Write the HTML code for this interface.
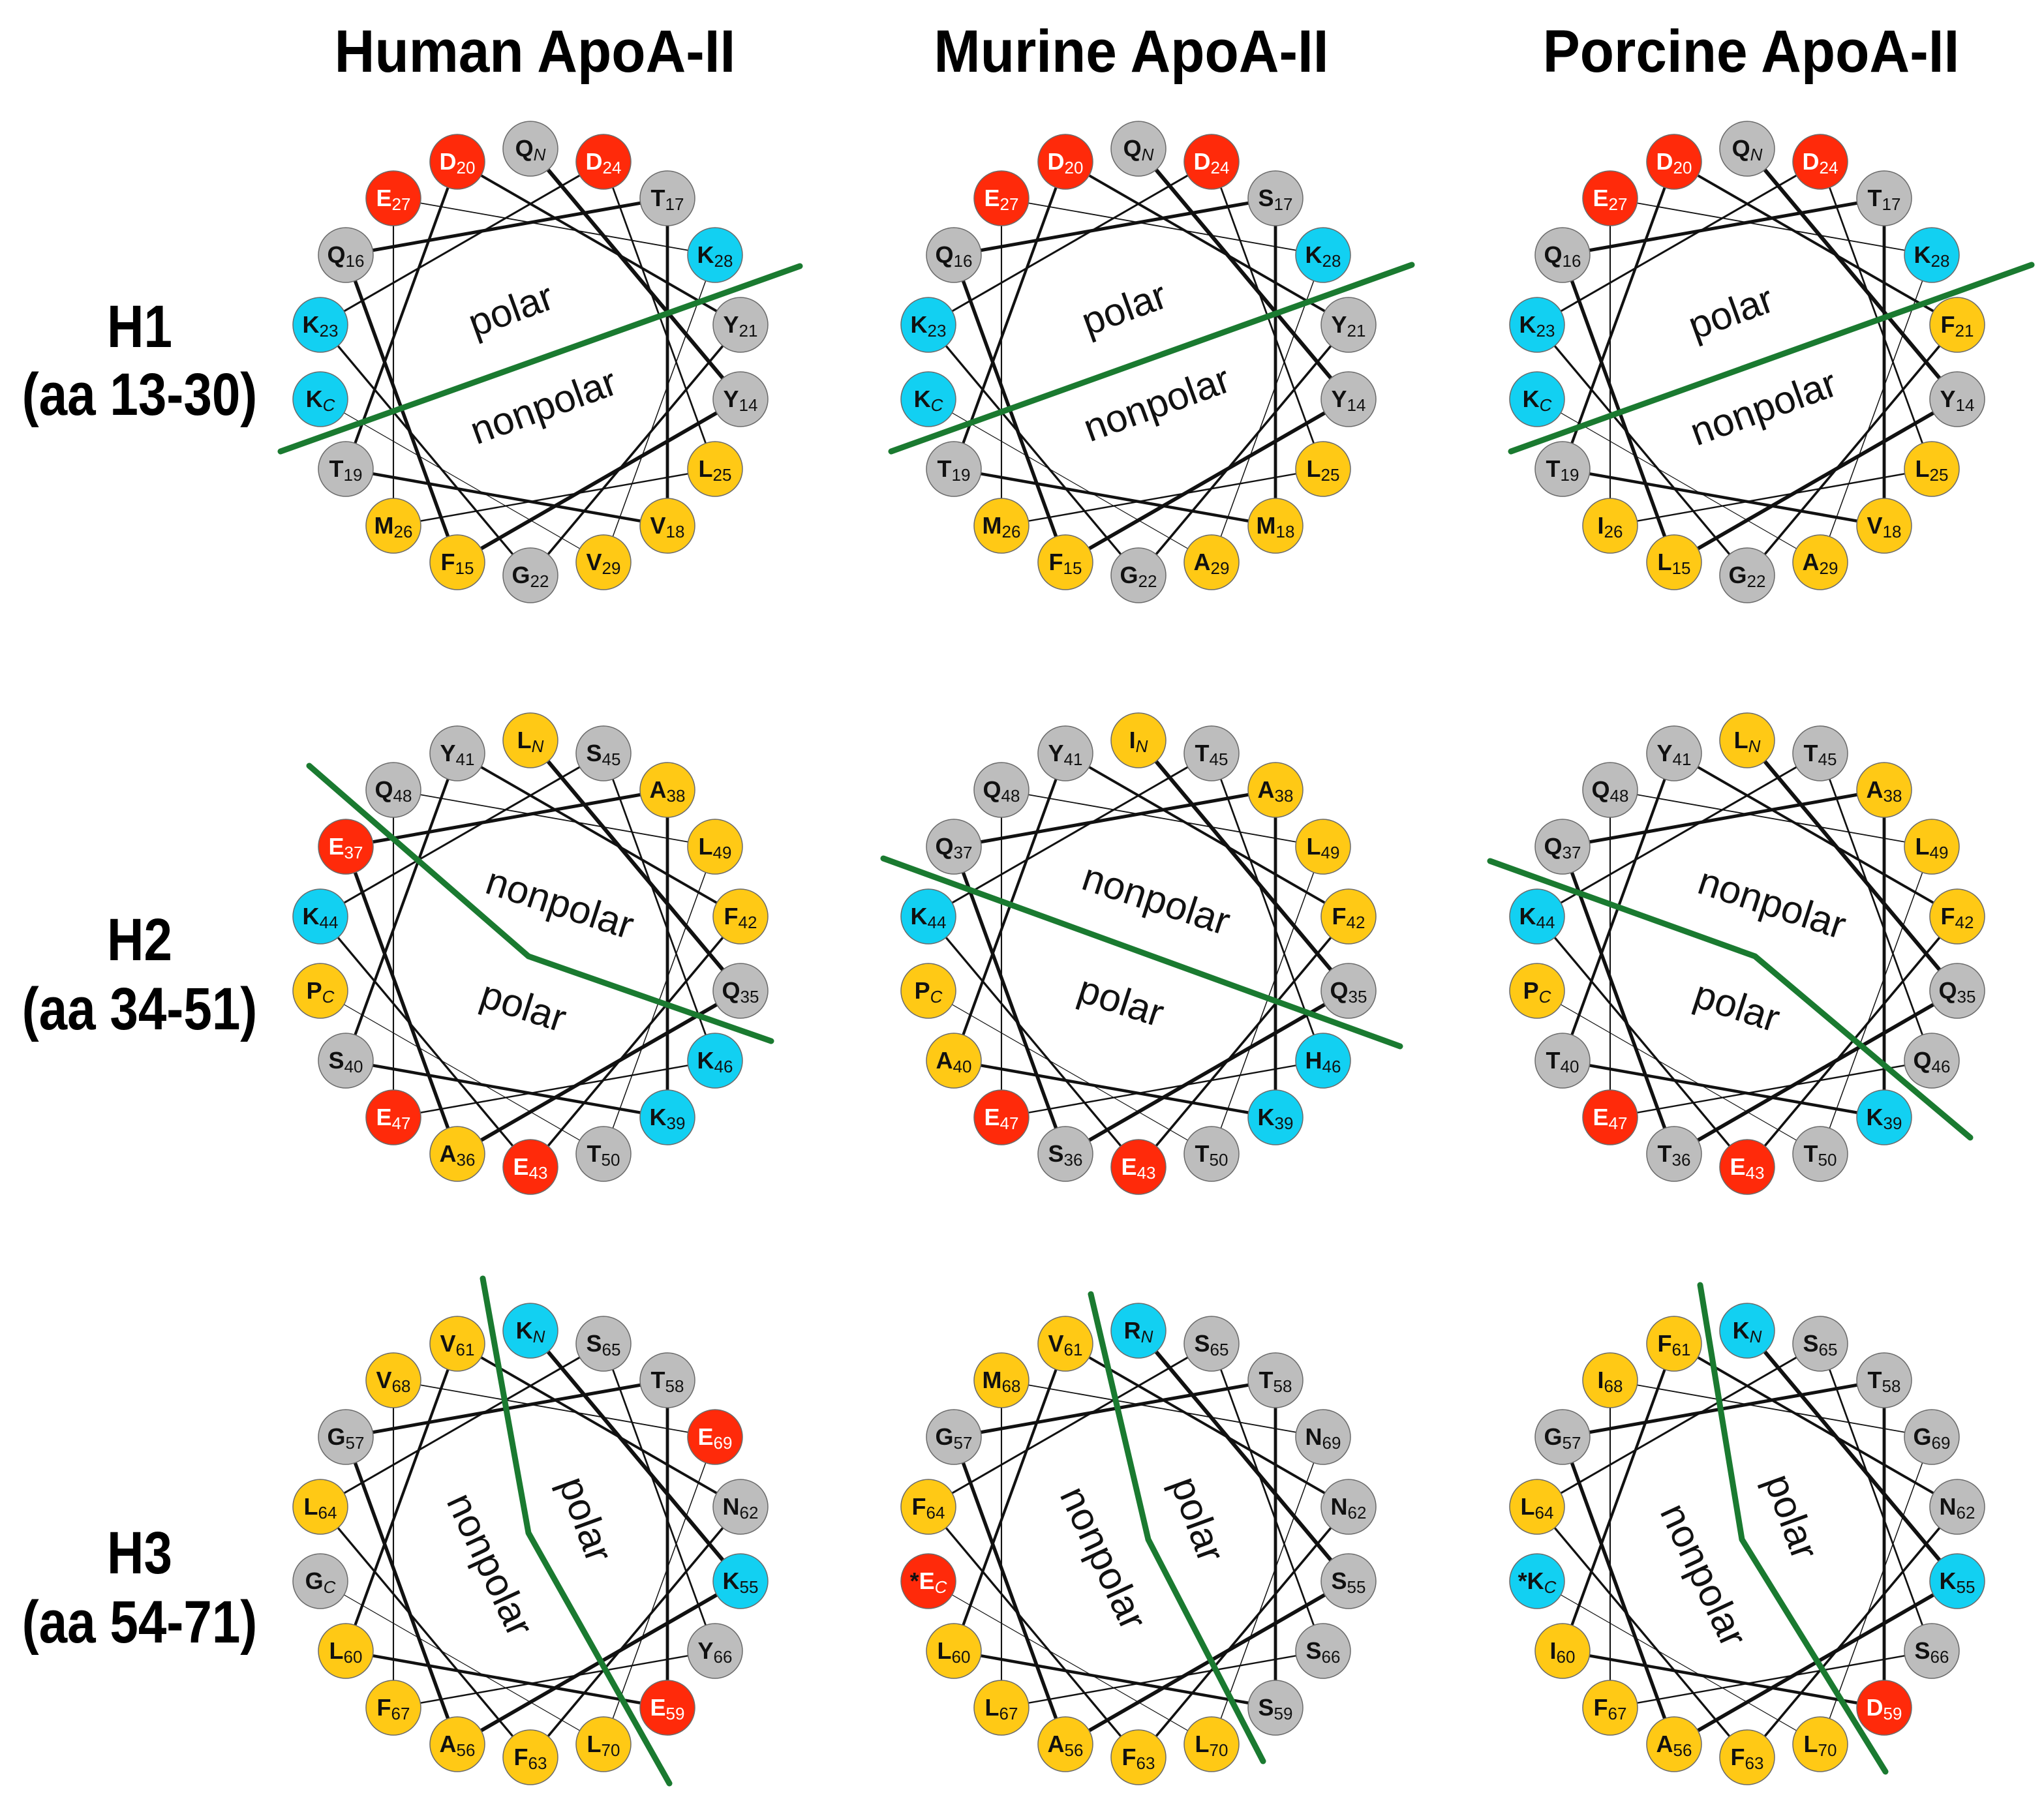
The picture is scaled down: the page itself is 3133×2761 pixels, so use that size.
<!DOCTYPE html>
<html><head><meta charset="utf-8"><style>
html,body{margin:0;padding:0;background:#fff}
svg{display:block}
.r{fill:#ff2a0a}.g{fill:#bdbdbd}.y{fill:#ffc915}.c{fill:#12d0f2}
circle{stroke:#6a6a6a;stroke-width:1.5}
text.t{font-family:"Liberation Sans",sans-serif;font-size:36px;font-weight:bold;text-anchor:middle;fill:#111}
text.w{fill:#fff}
.s{font-size:26px;font-weight:normal}
.i{font-size:26px;font-weight:normal;font-style:italic}
.h{font-family:"Liberation Sans",sans-serif;font-weight:bold;font-size:92px;text-anchor:middle;fill:#000}
.p{font-family:"Liberation Sans",sans-serif;font-size:60px;text-anchor:middle;fill:#111}
.gl{stroke:#1a7a30;stroke-width:9;fill:none;stroke-linecap:round;stroke-linejoin:round}
</style></head><body>
<svg width="3133" height="2761" viewBox="0 0 3133 2761" xmlns="http://www.w3.org/2000/svg">
<defs>
<g id="L" stroke="#111" stroke-linecap="round">
<line x1="0" y1="-327" x2="322" y2="57" stroke-width="6"/>
<line x1="322" y1="57" x2="-112" y2="307" stroke-width="5.7"/>
<line x1="-112" y1="307" x2="-283" y2="-164" stroke-width="5.4"/>
<line x1="-283" y1="-164" x2="210" y2="-251" stroke-width="5.1"/>
<line x1="210" y1="-251" x2="210" y2="251" stroke-width="4.8"/>
<line x1="210" y1="251" x2="-283" y2="164" stroke-width="4.5"/>
<line x1="-283" y1="164" x2="-112" y2="-307" stroke-width="4.2"/>
<line x1="-112" y1="-307" x2="322" y2="-57" stroke-width="3.9"/>
<line x1="322" y1="-57" x2="0" y2="327" stroke-width="3.6"/>
<line x1="0" y1="327" x2="-322" y2="-57" stroke-width="3.3"/>
<line x1="-322" y1="-57" x2="112" y2="-307" stroke-width="3.0"/>
<line x1="112" y1="-307" x2="283" y2="164" stroke-width="2.7"/>
<line x1="283" y1="164" x2="-210" y2="251" stroke-width="2.4"/>
<line x1="-210" y1="251" x2="-210" y2="-251" stroke-width="2.1"/>
<line x1="-210" y1="-251" x2="283" y2="-164" stroke-width="1.8"/>
<line x1="283" y1="-164" x2="112" y2="307" stroke-width="1.5"/>
<line x1="112" y1="307" x2="-322" y2="57" stroke-width="1.2"/>
</g>
</defs>

<text class="h" x="820" y="110" transform="translate(820 0) scale(0.93 1) translate(-820 0)">Human ApoA-II</text>
<text class="h" x="1734" y="110" transform="translate(1734 0) scale(0.93 1) translate(-1734 0)">Murine ApoA-II</text>
<text class="h" x="2684" y="110" transform="translate(2684 0) scale(0.93 1) translate(-2684 0)">Porcine ApoA-II</text>

<g transform="translate(214 0) scale(0.85 1) translate(-214 0)">
<text class="h" x="214" y="532">H1</text>
<text class="h" x="214" y="636">(aa 13-30)</text>
<text class="h" x="214" y="1472">H2</text>
<text class="h" x="214" y="1578">(aa 34-51)</text>
<text class="h" x="214" y="2412">H3</text>
<text class="h" x="214" y="2518">(aa 54-71)</text>
</g>

<g transform="translate(813 555)"><use href="#L"/>
<circle class="g" cx="0" cy="-327" r="42"/><text class="t" x="0" y="-315">Q<tspan class="i" dy="6">N</tspan></text>
<circle class="g" cx="322" cy="57" r="42"/><text class="t" x="322" y="69">Y<tspan class="s" dy="6">14</tspan></text>
<circle class="y" cx="-112" cy="307" r="42"/><text class="t" x="-112" y="319">F<tspan class="s" dy="6">15</tspan></text>
<circle class="g" cx="-283" cy="-164" r="42"/><text class="t" x="-283" y="-152">Q<tspan class="s" dy="6">16</tspan></text>
<circle class="g" cx="210" cy="-251" r="42"/><text class="t" x="210" y="-239">T<tspan class="s" dy="6">17</tspan></text>
<circle class="y" cx="210" cy="251" r="42"/><text class="t" x="210" y="263">V<tspan class="s" dy="6">18</tspan></text>
<circle class="g" cx="-283" cy="164" r="42"/><text class="t" x="-283" y="176">T<tspan class="s" dy="6">19</tspan></text>
<circle class="r" cx="-112" cy="-307" r="42"/><text class="t w" x="-112" y="-295">D<tspan class="s" dy="6">20</tspan></text>
<circle class="g" cx="322" cy="-57" r="42"/><text class="t" x="322" y="-45">Y<tspan class="s" dy="6">21</tspan></text>
<circle class="g" cx="0" cy="327" r="42"/><text class="t" x="0" y="339">G<tspan class="s" dy="6">22</tspan></text>
<circle class="c" cx="-322" cy="-57" r="42"/><text class="t" x="-322" y="-45">K<tspan class="s" dy="6">23</tspan></text>
<circle class="r" cx="112" cy="-307" r="42"/><text class="t w" x="112" y="-295">D<tspan class="s" dy="6">24</tspan></text>
<circle class="y" cx="283" cy="164" r="42"/><text class="t" x="283" y="176">L<tspan class="s" dy="6">25</tspan></text>
<circle class="y" cx="-210" cy="251" r="42"/><text class="t" x="-210" y="263">M<tspan class="s" dy="6">26</tspan></text>
<circle class="r" cx="-210" cy="-251" r="42"/><text class="t w" x="-210" y="-239">E<tspan class="s" dy="6">27</tspan></text>
<circle class="c" cx="283" cy="-164" r="42"/><text class="t" x="283" y="-152">K<tspan class="s" dy="6">28</tspan></text>
<circle class="y" cx="112" cy="307" r="42"/><text class="t" x="112" y="319">V<tspan class="s" dy="6">29</tspan></text>
<circle class="c" cx="-322" cy="57" r="42"/><text class="t" x="-322" y="69">K<tspan class="i" dy="6">C</tspan></text>
</g>

<g transform="translate(1745 555)"><use href="#L"/>
<circle class="g" cx="0" cy="-327" r="42"/><text class="t" x="0" y="-315">Q<tspan class="i" dy="6">N</tspan></text>
<circle class="g" cx="322" cy="57" r="42"/><text class="t" x="322" y="69">Y<tspan class="s" dy="6">14</tspan></text>
<circle class="y" cx="-112" cy="307" r="42"/><text class="t" x="-112" y="319">F<tspan class="s" dy="6">15</tspan></text>
<circle class="g" cx="-283" cy="-164" r="42"/><text class="t" x="-283" y="-152">Q<tspan class="s" dy="6">16</tspan></text>
<circle class="g" cx="210" cy="-251" r="42"/><text class="t" x="210" y="-239">S<tspan class="s" dy="6">17</tspan></text>
<circle class="y" cx="210" cy="251" r="42"/><text class="t" x="210" y="263">M<tspan class="s" dy="6">18</tspan></text>
<circle class="g" cx="-283" cy="164" r="42"/><text class="t" x="-283" y="176">T<tspan class="s" dy="6">19</tspan></text>
<circle class="r" cx="-112" cy="-307" r="42"/><text class="t w" x="-112" y="-295">D<tspan class="s" dy="6">20</tspan></text>
<circle class="g" cx="322" cy="-57" r="42"/><text class="t" x="322" y="-45">Y<tspan class="s" dy="6">21</tspan></text>
<circle class="g" cx="0" cy="327" r="42"/><text class="t" x="0" y="339">G<tspan class="s" dy="6">22</tspan></text>
<circle class="c" cx="-322" cy="-57" r="42"/><text class="t" x="-322" y="-45">K<tspan class="s" dy="6">23</tspan></text>
<circle class="r" cx="112" cy="-307" r="42"/><text class="t w" x="112" y="-295">D<tspan class="s" dy="6">24</tspan></text>
<circle class="y" cx="283" cy="164" r="42"/><text class="t" x="283" y="176">L<tspan class="s" dy="6">25</tspan></text>
<circle class="y" cx="-210" cy="251" r="42"/><text class="t" x="-210" y="263">M<tspan class="s" dy="6">26</tspan></text>
<circle class="r" cx="-210" cy="-251" r="42"/><text class="t w" x="-210" y="-239">E<tspan class="s" dy="6">27</tspan></text>
<circle class="c" cx="283" cy="-164" r="42"/><text class="t" x="283" y="-152">K<tspan class="s" dy="6">28</tspan></text>
<circle class="y" cx="112" cy="307" r="42"/><text class="t" x="112" y="319">A<tspan class="s" dy="6">29</tspan></text>
<circle class="c" cx="-322" cy="57" r="42"/><text class="t" x="-322" y="69">K<tspan class="i" dy="6">C</tspan></text>
</g>

<g transform="translate(2678 555)"><use href="#L"/>
<circle class="g" cx="0" cy="-327" r="42"/><text class="t" x="0" y="-315">Q<tspan class="i" dy="6">N</tspan></text>
<circle class="g" cx="322" cy="57" r="42"/><text class="t" x="322" y="69">Y<tspan class="s" dy="6">14</tspan></text>
<circle class="y" cx="-112" cy="307" r="42"/><text class="t" x="-112" y="319">L<tspan class="s" dy="6">15</tspan></text>
<circle class="g" cx="-283" cy="-164" r="42"/><text class="t" x="-283" y="-152">Q<tspan class="s" dy="6">16</tspan></text>
<circle class="g" cx="210" cy="-251" r="42"/><text class="t" x="210" y="-239">T<tspan class="s" dy="6">17</tspan></text>
<circle class="y" cx="210" cy="251" r="42"/><text class="t" x="210" y="263">V<tspan class="s" dy="6">18</tspan></text>
<circle class="g" cx="-283" cy="164" r="42"/><text class="t" x="-283" y="176">T<tspan class="s" dy="6">19</tspan></text>
<circle class="r" cx="-112" cy="-307" r="42"/><text class="t w" x="-112" y="-295">D<tspan class="s" dy="6">20</tspan></text>
<circle class="y" cx="322" cy="-57" r="42"/><text class="t" x="322" y="-45">F<tspan class="s" dy="6">21</tspan></text>
<circle class="g" cx="0" cy="327" r="42"/><text class="t" x="0" y="339">G<tspan class="s" dy="6">22</tspan></text>
<circle class="c" cx="-322" cy="-57" r="42"/><text class="t" x="-322" y="-45">K<tspan class="s" dy="6">23</tspan></text>
<circle class="r" cx="112" cy="-307" r="42"/><text class="t w" x="112" y="-295">D<tspan class="s" dy="6">24</tspan></text>
<circle class="y" cx="283" cy="164" r="42"/><text class="t" x="283" y="176">L<tspan class="s" dy="6">25</tspan></text>
<circle class="y" cx="-210" cy="251" r="42"/><text class="t" x="-210" y="263">I<tspan class="s" dy="6">26</tspan></text>
<circle class="r" cx="-210" cy="-251" r="42"/><text class="t w" x="-210" y="-239">E<tspan class="s" dy="6">27</tspan></text>
<circle class="c" cx="283" cy="-164" r="42"/><text class="t" x="283" y="-152">K<tspan class="s" dy="6">28</tspan></text>
<circle class="y" cx="112" cy="307" r="42"/><text class="t" x="112" y="319">A<tspan class="s" dy="6">29</tspan></text>
<circle class="c" cx="-322" cy="57" r="42"/><text class="t" x="-322" y="69">K<tspan class="i" dy="6">C</tspan></text>
</g>

<g transform="translate(813 1462)"><use href="#L"/>
<circle class="y" cx="0" cy="-327" r="42"/><text class="t" x="0" y="-315">L<tspan class="i" dy="6">N</tspan></text>
<circle class="g" cx="322" cy="57" r="42"/><text class="t" x="322" y="69">Q<tspan class="s" dy="6">35</tspan></text>
<circle class="y" cx="-112" cy="307" r="42"/><text class="t" x="-112" y="319">A<tspan class="s" dy="6">36</tspan></text>
<circle class="r" cx="-283" cy="-164" r="42"/><text class="t w" x="-283" y="-152">E<tspan class="s" dy="6">37</tspan></text>
<circle class="y" cx="210" cy="-251" r="42"/><text class="t" x="210" y="-239">A<tspan class="s" dy="6">38</tspan></text>
<circle class="c" cx="210" cy="251" r="42"/><text class="t" x="210" y="263">K<tspan class="s" dy="6">39</tspan></text>
<circle class="g" cx="-283" cy="164" r="42"/><text class="t" x="-283" y="176">S<tspan class="s" dy="6">40</tspan></text>
<circle class="g" cx="-112" cy="-307" r="42"/><text class="t" x="-112" y="-295">Y<tspan class="s" dy="6">41</tspan></text>
<circle class="y" cx="322" cy="-57" r="42"/><text class="t" x="322" y="-45">F<tspan class="s" dy="6">42</tspan></text>
<circle class="r" cx="0" cy="327" r="42"/><text class="t w" x="0" y="339">E<tspan class="s" dy="6">43</tspan></text>
<circle class="c" cx="-322" cy="-57" r="42"/><text class="t" x="-322" y="-45">K<tspan class="s" dy="6">44</tspan></text>
<circle class="g" cx="112" cy="-307" r="42"/><text class="t" x="112" y="-295">S<tspan class="s" dy="6">45</tspan></text>
<circle class="c" cx="283" cy="164" r="42"/><text class="t" x="283" y="176">K<tspan class="s" dy="6">46</tspan></text>
<circle class="r" cx="-210" cy="251" r="42"/><text class="t w" x="-210" y="263">E<tspan class="s" dy="6">47</tspan></text>
<circle class="g" cx="-210" cy="-251" r="42"/><text class="t" x="-210" y="-239">Q<tspan class="s" dy="6">48</tspan></text>
<circle class="y" cx="283" cy="-164" r="42"/><text class="t" x="283" y="-152">L<tspan class="s" dy="6">49</tspan></text>
<circle class="g" cx="112" cy="307" r="42"/><text class="t" x="112" y="319">T<tspan class="s" dy="6">50</tspan></text>
<circle class="y" cx="-322" cy="57" r="42"/><text class="t" x="-322" y="69">P<tspan class="i" dy="6">C</tspan></text>
</g>

<g transform="translate(1745 1462)"><use href="#L"/>
<circle class="y" cx="0" cy="-327" r="42"/><text class="t" x="0" y="-315">I<tspan class="i" dy="6">N</tspan></text>
<circle class="g" cx="322" cy="57" r="42"/><text class="t" x="322" y="69">Q<tspan class="s" dy="6">35</tspan></text>
<circle class="g" cx="-112" cy="307" r="42"/><text class="t" x="-112" y="319">S<tspan class="s" dy="6">36</tspan></text>
<circle class="g" cx="-283" cy="-164" r="42"/><text class="t" x="-283" y="-152">Q<tspan class="s" dy="6">37</tspan></text>
<circle class="y" cx="210" cy="-251" r="42"/><text class="t" x="210" y="-239">A<tspan class="s" dy="6">38</tspan></text>
<circle class="c" cx="210" cy="251" r="42"/><text class="t" x="210" y="263">K<tspan class="s" dy="6">39</tspan></text>
<circle class="y" cx="-283" cy="164" r="42"/><text class="t" x="-283" y="176">A<tspan class="s" dy="6">40</tspan></text>
<circle class="g" cx="-112" cy="-307" r="42"/><text class="t" x="-112" y="-295">Y<tspan class="s" dy="6">41</tspan></text>
<circle class="y" cx="322" cy="-57" r="42"/><text class="t" x="322" y="-45">F<tspan class="s" dy="6">42</tspan></text>
<circle class="r" cx="0" cy="327" r="42"/><text class="t w" x="0" y="339">E<tspan class="s" dy="6">43</tspan></text>
<circle class="c" cx="-322" cy="-57" r="42"/><text class="t" x="-322" y="-45">K<tspan class="s" dy="6">44</tspan></text>
<circle class="g" cx="112" cy="-307" r="42"/><text class="t" x="112" y="-295">T<tspan class="s" dy="6">45</tspan></text>
<circle class="c" cx="283" cy="164" r="42"/><text class="t" x="283" y="176">H<tspan class="s" dy="6">46</tspan></text>
<circle class="r" cx="-210" cy="251" r="42"/><text class="t w" x="-210" y="263">E<tspan class="s" dy="6">47</tspan></text>
<circle class="g" cx="-210" cy="-251" r="42"/><text class="t" x="-210" y="-239">Q<tspan class="s" dy="6">48</tspan></text>
<circle class="y" cx="283" cy="-164" r="42"/><text class="t" x="283" y="-152">L<tspan class="s" dy="6">49</tspan></text>
<circle class="g" cx="112" cy="307" r="42"/><text class="t" x="112" y="319">T<tspan class="s" dy="6">50</tspan></text>
<circle class="y" cx="-322" cy="57" r="42"/><text class="t" x="-322" y="69">P<tspan class="i" dy="6">C</tspan></text>
</g>

<g transform="translate(2678 1462)"><use href="#L"/>
<circle class="y" cx="0" cy="-327" r="42"/><text class="t" x="0" y="-315">L<tspan class="i" dy="6">N</tspan></text>
<circle class="g" cx="322" cy="57" r="42"/><text class="t" x="322" y="69">Q<tspan class="s" dy="6">35</tspan></text>
<circle class="g" cx="-112" cy="307" r="42"/><text class="t" x="-112" y="319">T<tspan class="s" dy="6">36</tspan></text>
<circle class="g" cx="-283" cy="-164" r="42"/><text class="t" x="-283" y="-152">Q<tspan class="s" dy="6">37</tspan></text>
<circle class="y" cx="210" cy="-251" r="42"/><text class="t" x="210" y="-239">A<tspan class="s" dy="6">38</tspan></text>
<circle class="c" cx="210" cy="251" r="42"/><text class="t" x="210" y="263">K<tspan class="s" dy="6">39</tspan></text>
<circle class="g" cx="-283" cy="164" r="42"/><text class="t" x="-283" y="176">T<tspan class="s" dy="6">40</tspan></text>
<circle class="g" cx="-112" cy="-307" r="42"/><text class="t" x="-112" y="-295">Y<tspan class="s" dy="6">41</tspan></text>
<circle class="y" cx="322" cy="-57" r="42"/><text class="t" x="322" y="-45">F<tspan class="s" dy="6">42</tspan></text>
<circle class="r" cx="0" cy="327" r="42"/><text class="t w" x="0" y="339">E<tspan class="s" dy="6">43</tspan></text>
<circle class="c" cx="-322" cy="-57" r="42"/><text class="t" x="-322" y="-45">K<tspan class="s" dy="6">44</tspan></text>
<circle class="g" cx="112" cy="-307" r="42"/><text class="t" x="112" y="-295">T<tspan class="s" dy="6">45</tspan></text>
<circle class="g" cx="283" cy="164" r="42"/><text class="t" x="283" y="176">Q<tspan class="s" dy="6">46</tspan></text>
<circle class="r" cx="-210" cy="251" r="42"/><text class="t w" x="-210" y="263">E<tspan class="s" dy="6">47</tspan></text>
<circle class="g" cx="-210" cy="-251" r="42"/><text class="t" x="-210" y="-239">Q<tspan class="s" dy="6">48</tspan></text>
<circle class="y" cx="283" cy="-164" r="42"/><text class="t" x="283" y="-152">L<tspan class="s" dy="6">49</tspan></text>
<circle class="g" cx="112" cy="307" r="42"/><text class="t" x="112" y="319">T<tspan class="s" dy="6">50</tspan></text>
<circle class="y" cx="-322" cy="57" r="42"/><text class="t" x="-322" y="69">P<tspan class="i" dy="6">C</tspan></text>
</g>

<g transform="translate(813 2367)"><use href="#L"/>
<circle class="c" cx="0" cy="-327" r="42"/><text class="t" x="0" y="-315">K<tspan class="i" dy="6">N</tspan></text>
<circle class="c" cx="322" cy="57" r="42"/><text class="t" x="322" y="69">K<tspan class="s" dy="6">55</tspan></text>
<circle class="y" cx="-112" cy="307" r="42"/><text class="t" x="-112" y="319">A<tspan class="s" dy="6">56</tspan></text>
<circle class="g" cx="-283" cy="-164" r="42"/><text class="t" x="-283" y="-152">G<tspan class="s" dy="6">57</tspan></text>
<circle class="g" cx="210" cy="-251" r="42"/><text class="t" x="210" y="-239">T<tspan class="s" dy="6">58</tspan></text>
<circle class="r" cx="210" cy="251" r="42"/><text class="t w" x="210" y="263">E<tspan class="s" dy="6">59</tspan></text>
<circle class="y" cx="-283" cy="164" r="42"/><text class="t" x="-283" y="176">L<tspan class="s" dy="6">60</tspan></text>
<circle class="y" cx="-112" cy="-307" r="42"/><text class="t" x="-112" y="-295">V<tspan class="s" dy="6">61</tspan></text>
<circle class="g" cx="322" cy="-57" r="42"/><text class="t" x="322" y="-45">N<tspan class="s" dy="6">62</tspan></text>
<circle class="y" cx="0" cy="327" r="42"/><text class="t" x="0" y="339">F<tspan class="s" dy="6">63</tspan></text>
<circle class="y" cx="-322" cy="-57" r="42"/><text class="t" x="-322" y="-45">L<tspan class="s" dy="6">64</tspan></text>
<circle class="g" cx="112" cy="-307" r="42"/><text class="t" x="112" y="-295">S<tspan class="s" dy="6">65</tspan></text>
<circle class="g" cx="283" cy="164" r="42"/><text class="t" x="283" y="176">Y<tspan class="s" dy="6">66</tspan></text>
<circle class="y" cx="-210" cy="251" r="42"/><text class="t" x="-210" y="263">F<tspan class="s" dy="6">67</tspan></text>
<circle class="y" cx="-210" cy="-251" r="42"/><text class="t" x="-210" y="-239">V<tspan class="s" dy="6">68</tspan></text>
<circle class="r" cx="283" cy="-164" r="42"/><text class="t w" x="283" y="-152">E<tspan class="s" dy="6">69</tspan></text>
<circle class="y" cx="112" cy="307" r="42"/><text class="t" x="112" y="319">L<tspan class="s" dy="6">70</tspan></text>
<circle class="g" cx="-322" cy="57" r="42"/><text class="t" x="-322" y="69">G<tspan class="i" dy="6">C</tspan></text>
</g>

<g transform="translate(1745 2367)"><use href="#L"/>
<circle class="c" cx="0" cy="-327" r="42"/><text class="t" x="0" y="-315">R<tspan class="i" dy="6">N</tspan></text>
<circle class="g" cx="322" cy="57" r="42"/><text class="t" x="322" y="69">S<tspan class="s" dy="6">55</tspan></text>
<circle class="y" cx="-112" cy="307" r="42"/><text class="t" x="-112" y="319">A<tspan class="s" dy="6">56</tspan></text>
<circle class="g" cx="-283" cy="-164" r="42"/><text class="t" x="-283" y="-152">G<tspan class="s" dy="6">57</tspan></text>
<circle class="g" cx="210" cy="-251" r="42"/><text class="t" x="210" y="-239">T<tspan class="s" dy="6">58</tspan></text>
<circle class="g" cx="210" cy="251" r="42"/><text class="t" x="210" y="263">S<tspan class="s" dy="6">59</tspan></text>
<circle class="y" cx="-283" cy="164" r="42"/><text class="t" x="-283" y="176">L<tspan class="s" dy="6">60</tspan></text>
<circle class="y" cx="-112" cy="-307" r="42"/><text class="t" x="-112" y="-295">V<tspan class="s" dy="6">61</tspan></text>
<circle class="g" cx="322" cy="-57" r="42"/><text class="t" x="322" y="-45">N<tspan class="s" dy="6">62</tspan></text>
<circle class="y" cx="0" cy="327" r="42"/><text class="t" x="0" y="339">F<tspan class="s" dy="6">63</tspan></text>
<circle class="y" cx="-322" cy="-57" r="42"/><text class="t" x="-322" y="-45">F<tspan class="s" dy="6">64</tspan></text>
<circle class="g" cx="112" cy="-307" r="42"/><text class="t" x="112" y="-295">S<tspan class="s" dy="6">65</tspan></text>
<circle class="g" cx="283" cy="164" r="42"/><text class="t" x="283" y="176">S<tspan class="s" dy="6">66</tspan></text>
<circle class="y" cx="-210" cy="251" r="42"/><text class="t" x="-210" y="263">L<tspan class="s" dy="6">67</tspan></text>
<circle class="y" cx="-210" cy="-251" r="42"/><text class="t" x="-210" y="-239">M<tspan class="s" dy="6">68</tspan></text>
<circle class="g" cx="283" cy="-164" r="42"/><text class="t" x="283" y="-152">N<tspan class="s" dy="6">69</tspan></text>
<circle class="y" cx="112" cy="307" r="42"/><text class="t" x="112" y="319">L<tspan class="s" dy="6">70</tspan></text>
<circle class="r" cx="-322" cy="57" r="42"/><text class="t w" x="-322" y="69"><tspan fill="#111">*</tspan>E<tspan class="i" dy="6">C</tspan></text>
</g>

<g transform="translate(2678 2367)"><use href="#L"/>
<circle class="c" cx="0" cy="-327" r="42"/><text class="t" x="0" y="-315">K<tspan class="i" dy="6">N</tspan></text>
<circle class="c" cx="322" cy="57" r="42"/><text class="t" x="322" y="69">K<tspan class="s" dy="6">55</tspan></text>
<circle class="y" cx="-112" cy="307" r="42"/><text class="t" x="-112" y="319">A<tspan class="s" dy="6">56</tspan></text>
<circle class="g" cx="-283" cy="-164" r="42"/><text class="t" x="-283" y="-152">G<tspan class="s" dy="6">57</tspan></text>
<circle class="g" cx="210" cy="-251" r="42"/><text class="t" x="210" y="-239">T<tspan class="s" dy="6">58</tspan></text>
<circle class="r" cx="210" cy="251" r="42"/><text class="t w" x="210" y="263">D<tspan class="s" dy="6">59</tspan></text>
<circle class="y" cx="-283" cy="164" r="42"/><text class="t" x="-283" y="176">I<tspan class="s" dy="6">60</tspan></text>
<circle class="y" cx="-112" cy="-307" r="42"/><text class="t" x="-112" y="-295">F<tspan class="s" dy="6">61</tspan></text>
<circle class="g" cx="322" cy="-57" r="42"/><text class="t" x="322" y="-45">N<tspan class="s" dy="6">62</tspan></text>
<circle class="y" cx="0" cy="327" r="42"/><text class="t" x="0" y="339">F<tspan class="s" dy="6">63</tspan></text>
<circle class="y" cx="-322" cy="-57" r="42"/><text class="t" x="-322" y="-45">L<tspan class="s" dy="6">64</tspan></text>
<circle class="g" cx="112" cy="-307" r="42"/><text class="t" x="112" y="-295">S<tspan class="s" dy="6">65</tspan></text>
<circle class="g" cx="283" cy="164" r="42"/><text class="t" x="283" y="176">S<tspan class="s" dy="6">66</tspan></text>
<circle class="y" cx="-210" cy="251" r="42"/><text class="t" x="-210" y="263">F<tspan class="s" dy="6">67</tspan></text>
<circle class="y" cx="-210" cy="-251" r="42"/><text class="t" x="-210" y="-239">I<tspan class="s" dy="6">68</tspan></text>
<circle class="g" cx="283" cy="-164" r="42"/><text class="t" x="283" y="-152">G<tspan class="s" dy="6">69</tspan></text>
<circle class="y" cx="112" cy="307" r="42"/><text class="t" x="112" y="319">L<tspan class="s" dy="6">70</tspan></text>
<circle class="c" cx="-322" cy="57" r="42"/><text class="t" x="-322" y="69">*K<tspan class="i" dy="6">C</tspan></text>
</g>

<text class="p" transform="translate(790 494) rotate(-20)">polar</text>
<text class="p" transform="translate(840 642) rotate(-20)">nonpolar</text>
<text class="p" transform="translate(1730 492) rotate(-20)">polar</text>
<text class="p" transform="translate(1780 638) rotate(-20)">nonpolar</text>
<text class="p" transform="translate(2660 498) rotate(-20)">polar</text>
<text class="p" transform="translate(2710 644) rotate(-20)">nonpolar</text>

<text class="p" transform="translate(852 1404) rotate(18)">nonpolar</text>
<text class="p" transform="translate(796 1562) rotate(18)">polar</text>
<text class="p" transform="translate(1766 1398) rotate(18)">nonpolar</text>
<text class="p" transform="translate(1712 1554) rotate(18)">polar</text>
<text class="p" transform="translate(2710 1404) rotate(18)">nonpolar</text>
<text class="p" transform="translate(2656 1562) rotate(18)">polar</text>

<text class="p" transform="translate(879 2336) rotate(70)">polar</text>
<text class="p" transform="translate(733 2407) rotate(65)">nonpolar</text>
<text class="p" transform="translate(1817 2336) rotate(70)">polar</text>
<text class="p" transform="translate(1673 2397) rotate(65)">nonpolar</text>
<text class="p" transform="translate(2727 2332) rotate(70)">polar</text>
<text class="p" transform="translate(2593 2423) rotate(65)">nonpolar</text>

<polyline class="gl" points="430,692 1226,408"/>
<polyline class="gl" points="1366,692 2164,406"/>
<polyline class="gl" points="2316,692 3114,406"/>
<polyline class="gl" points="474,1174 810,1466 1182,1596"/>
<polyline class="gl" points="1354,1316 2146,1604"/>
<polyline class="gl" points="2284,1320 2690,1466 3020,1744"/>
<polyline class="gl" points="740,1960 810,2350 1026,2734"/>
<polyline class="gl" points="1672,1984 1760,2360 1936,2700"/>
<polyline class="gl" points="2606,1970 2670,2360 2890,2716"/>
</svg>
</body></html>
